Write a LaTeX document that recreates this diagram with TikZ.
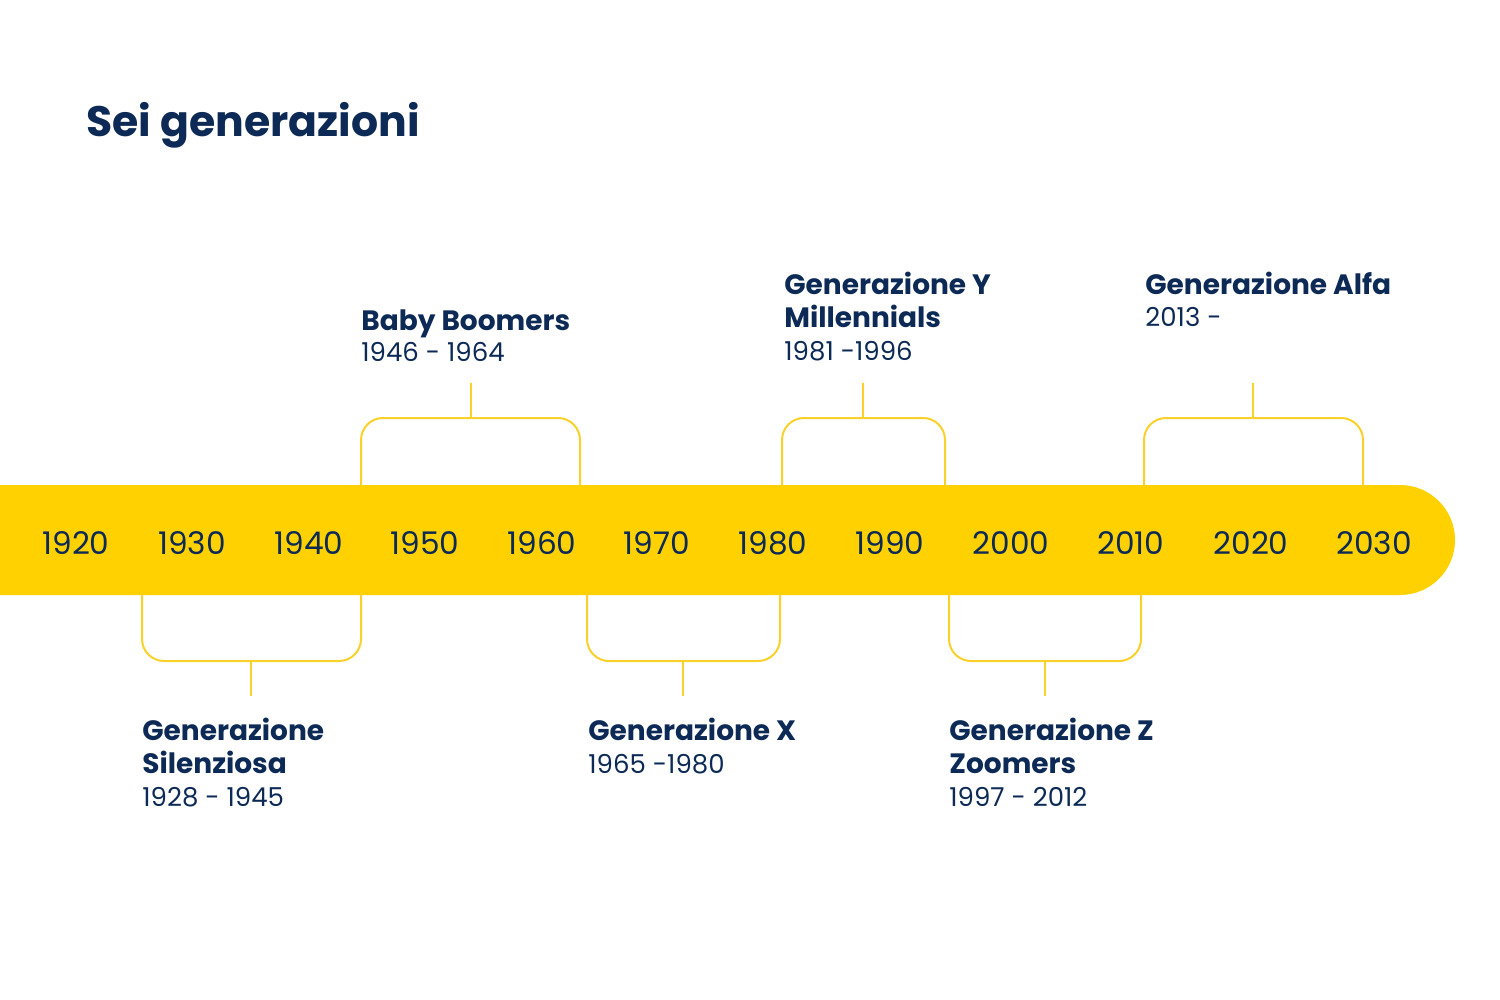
\documentclass[tikz,border=0pt]{standalone}
\usepackage{fontspec}
\setmainfont{Poppins}
\definecolor{band}{HTML}{FFD100}
\definecolor{brk}{HTML}{FAD12B}
\definecolor{navy}{HTML}{0C2A55}
\begin{document}
\begin{tikzpicture}[x=0.5pt,y=-0.5pt,
  brack/.style={draw=brk,line width=1pt,rounded corners=11pt},
  yr/.style={text=navy,font=\fontsize{15.6}{18}\selectfont,anchor=center,inner sep=0},
  gname/.style={text=navy,font=\fontsize{14}{16.5}\selectfont\bfseries,anchor=base west,inner sep=0},
  gyear/.style={text=navy,font=\fontsize{13}{16}\selectfont,anchor=base west,inner sep=0}]
\useasboundingbox (0,0) rectangle (1500,1000);
\node[text=navy,font=\fontsize{21.3}{26}\selectfont\bfseries,anchor=base west,inner sep=0] (title) at (86,137) {Sei generazioni};
% band
\fill[band] (0,485) -- (1400,485) arc[start angle=90,end angle=-90,radius=27.5pt] -- (0,595) -- cycle;
% years
\foreach \x/\y [count=\i] in {76/1920,192/1930,309/1940,425/1950,542/1960,657/1970,773/1980,890/1990,1011/2000,1131/2010,1251/2020,1374/2030}
  \node[yr] (y\i) at (\x,543) {\y};
% top brackets
\draw[brack] (361,485) -- (361,418) -- (580,418) -- (580,485);
\draw[brack] (782,485) -- (782,418) -- (945,418) -- (945,485);
\draw[brack] (1144,485) -- (1144,418) -- (1363,418) -- (1363,485);
\coordinate (bbs) at (471,383); \coordinate (bbe) at (471,418);
\coordinate (gys) at (863,383); \coordinate (gye) at (863,418);
\coordinate (gas) at (1253,383); \coordinate (gae) at (1253,418);
\draw[brk,line width=1pt] (bbs) -- (bbe);
\draw[brk,line width=1pt] (gys) -- (gye);
\draw[brk,line width=1pt] (gas) -- (gae);
% bottom brackets
\draw[brack] (142,595) -- (142,661) -- (361,661) -- (361,595);
\draw[brack] (587,595) -- (587,661) -- (780,661) -- (780,595);
\draw[brack] (949,595) -- (949,661) -- (1141,661) -- (1141,595);
\coordinate (gss) at (251,661); \coordinate (gse) at (251,696);
\coordinate (gxs) at (683,661); \coordinate (gxe) at (683,696);
\coordinate (gzs) at (1045,661); \coordinate (gze) at (1045,696);
\draw[brk,line width=1pt] (gss) -- (gse);
\draw[brk,line width=1pt] (gxs) -- (gxe);
\draw[brk,line width=1pt] (gzs) -- (gze);
% labels top
\node[gname] (bb1) at (361,330) {Baby Boomers};
\node[gyear] (bb2) at (361,362) {1946 - 1964};
\node[gname] (gy1) at (784,295) {Generazione Y};
\node[gname] (gy2) at (784,328) {Millennials};
\node[gyear] (gy3) at (784,360) {1981 -1996};
\node[gname] (ga1) at (1145,295) {Generazione Alfa};
\node[gyear] (ga2) at (1145,327) {2013 -};
% labels bottom
\node[gname] (gs1) at (142,740) {Generazione};
\node[gname] (gs2) at (142,773) {Silenziosa};
\node[gyear] (gs3) at (142,806) {1928 - 1945};
\node[gname] (gx1) at (588,740) {Generazione X};
\node[gyear] (gx2) at (588,773) {1965 -1980};
\node[gname] (gz1) at (949,740) {Generazione Z};
\node[gname] (gz2) at (949,773) {Zoomers};
\node[gyear] (gz3) at (949,806) {1997 - 2012};
\end{tikzpicture}
\end{document}
